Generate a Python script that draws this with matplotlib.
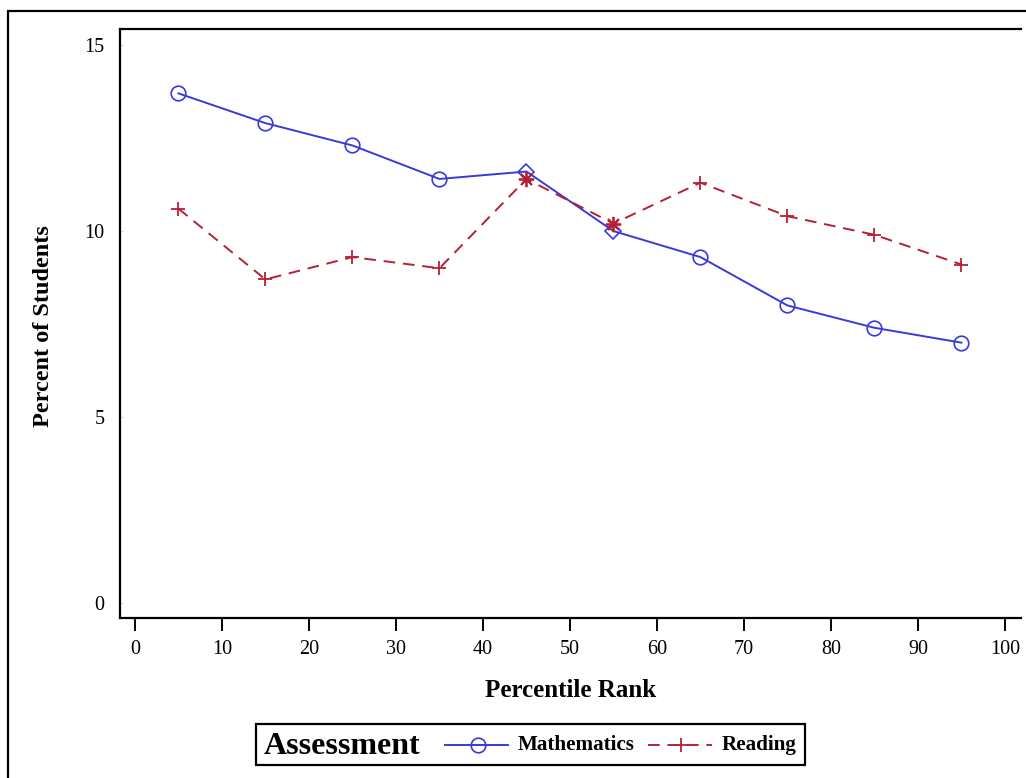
import matplotlib
matplotlib.use("Agg")
import matplotlib.pyplot as plt
from matplotlib.lines import Line2D
from matplotlib.patches import Rectangle

percentile = [5, 15, 25, 35, 45, 55, 65, 75, 85, 95]
math_pct = [13.7, 12.9, 12.3, 11.4, 11.6, 10.0, 9.3, 8.0, 7.4, 7.0]
read_pct = [10.6, 8.7, 9.3, 9.0, 11.4, 10.2, 11.3, 10.4, 9.9, 9.1]
math_markers = ['o', 'o', 'o', 'o', 'D', 'D', 'o', 'o', 'o', 'o']
read_markers = ['+', '+', '+', '+', (8, 2, 0), (8, 2, 0), '+', '+', '+', '+']
xticks = [0, 10, 20, 30, 40, 50, 60, 70, 80, 90, 100]
yticks = [0, 5, 10, 15]

BLUE = '#3a3ad6'
RED = '#b52035'

plt.rcParams['font.family'] = ['Liberation Serif', 'DejaVu Serif']

fig = plt.figure(figsize=(10.26, 7.78), dpi=100)
W, H = 1026, 778
x0, x1 = 120, 1021
ax = fig.add_axes([x0 / W, 1 - 618 / H, (x1 - x0) / W, (618 - 29) / H])

ax.plot(percentile, math_pct, color=BLUE, lw=1.4, zorder=3)
for x, y, m in zip(percentile, math_pct, math_markers):
    ax.plot([x], [y], marker=m, markersize=10.5 if m == 'o' else 8, mfc='none',
            mec=BLUE, mew=1.2, ls='none', zorder=4)
ax.plot(percentile, read_pct, color=RED, lw=1.4, ls=(0, (6, 4)), zorder=3)
for x, y, m in zip(percentile, read_pct, read_markers):
    ax.plot([x], [y], marker=m, markersize=10 if m == '+' else 11, mfc=RED,
            mec=RED, mew=1.3, ls='none', zorder=4)

ax.set_xlim(-1.72, 101.85)
ax.set_ylim(-0.4, 15.43)
ax.set_xticks(xticks)
ax.set_yticks(yticks)
ax.tick_params(axis='x', direction='out', length=9, width=1.4, labelsize=14.5, pad=7)
ax.tick_params(axis='y', direction='in', length=2, width=0.5, color='#bbbbbb',
               labelsize=14.5, pad=11)
for s in ['left', 'bottom', 'top']:
    ax.spines[s].set_linewidth(1.6)
ax.spines['right'].set_visible(False)

ax.set_xlabel('Percentile Rank', fontsize=18, fontweight='bold')
ax.xaxis.set_label_coords((571 - x0) / (x1 - x0), -(679 - 618) / (618 - 29))
ax.set_ylabel('Percent of Students', fontsize=17.5, fontweight='bold')
ax.yaxis.set_label_coords(-(x0 - 54) / (x1 - x0), (618 - 326) / (618 - 29))

# outer frame
fig.add_artist(Rectangle((8 / W, -0.1), 1.2, 1 - 11 / H + 0.1, transform=fig.transFigure,
                         fill=False, lw=1.6, ec='black'))

# legend box
ly = 1 - 745 / H
fig.add_artist(Rectangle((256 / W, 1 - 765 / H), (805 - 256) / W, (765 - 724) / H,
                         transform=fig.transFigure, fill=False, lw=1.6, ec='black'))
fig.text(264 / W, 1 - 747 / H, 'Assessment', fontsize=23, fontweight='bold',
         va='center', ha='left')
fig.add_artist(Line2D([445 / W, 508 / W], [ly, ly], transform=fig.transFigure,
                      color=BLUE, lw=1.4))
fig.add_artist(Line2D([478 / W], [ly], transform=fig.transFigure, marker='o',
                      markersize=10.5, mfc='none', mec=BLUE, mew=1.2))
fig.text(518 / W, ly, 'Mathematics', fontsize=15.2, fontweight='bold', va='center', ha='left')
fig.add_artist(Line2D([648 / W, 712 / W], [ly, ly], transform=fig.transFigure,
                      color=RED, lw=1.4, ls=(0, (6, 4))))
fig.add_artist(Line2D([681 / W], [ly], transform=fig.transFigure, marker='+',
                      markersize=10, mec=RED, mew=1.3))
fig.text(722 / W, ly, 'Reading', fontsize=15.2, fontweight='bold', va='center', ha='left')

fig.savefig('out.png', dpi=100)
